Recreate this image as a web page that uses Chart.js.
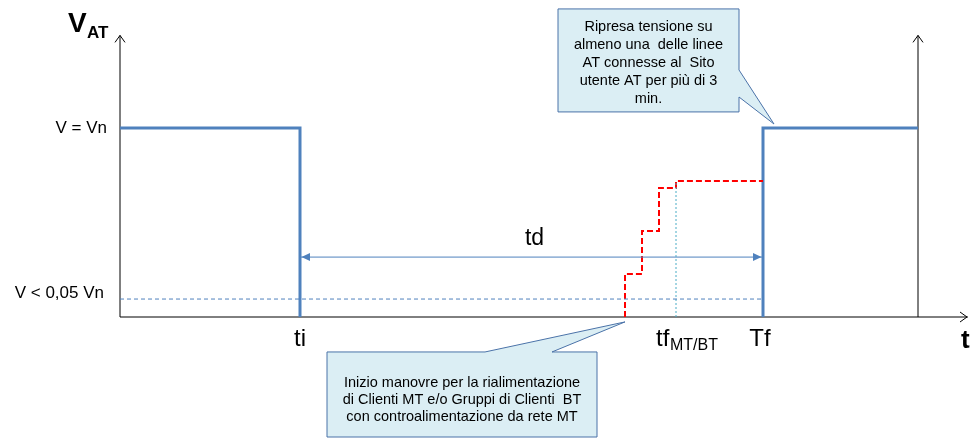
<!DOCTYPE html>
<html>

<head>
    <meta charset="utf-8">
    <title>V AT</title>
    <script src="https://cdn.jsdelivr.net/npm/chart.js"></script>
    <style>
        body { margin: 0; background: #fff; }
        canvas { display: block; }
    </style>
</head>

<body>
    <canvas id="vat-chart" width="972" height="444"></canvas>
    <script>
        // time axis (arbitrary units), voltage in units of Vn
        const tAxisMax = 848;
        const vAxisTop = 1.49;
        const tRight = 798;
        const ti = 180;
        const tStart = 505;
        const tfMTBT = 556;
        const Tf = 643;
        const vThreshold = 0.095;
        const vTd = 0.317;

        const blueBeforeT = [0, ti, ti];
        const blueBeforeV = [1, 1, 0];
        const blueAfterT = [Tf, Tf, tRight];
        const blueAfterV = [0, 1, 1];
        const redT = [505, 505, 522, 522, 539, 539, 556, 556, 643];
        const redV = [0, 0.228, 0.228, 0.455, 0.455, 0.683, 0.683, 0.72, 0.72];

        const yLabels = ['V = Vn', 'V < 0,05 Vn'];
        const yLabelValues = [1, vThreshold];
        const xLabels = ['ti', 'tf', 'Tf'];
        const xLabelValues = [ti, tfMTBT, Tf];

        const noteTop = ['Ripresa tensione su', 'almeno una  delle linee', 'AT connesse al  Sito',
            'utente AT per più di 3', 'min.'];
        const noteBottom = ['Inizio manovre per la rialimentazione', 'di Clienti MT e/o Gruppi di Clienti  BT',
            'con controalimentazione da rete MT'];

        const toPts = (xs, ys) => xs.map((x, i) => ({ x: x, y: ys[i] }));
        const BLUE = '#4F81BD';
        const FONT = '"Liberation Sans", Arial, sans-serif';

        function openArrow(ctx, x, y, dir) {
            ctx.beginPath();
            if (dir === 'up') {
                ctx.moveTo(x - 5, y + 7); ctx.lineTo(x, y); ctx.lineTo(x + 5, y + 7);
            } else {
                ctx.moveTo(x - 7, y - 5); ctx.lineTo(x, y); ctx.lineTo(x - 7, y + 5);
            }
            ctx.stroke();
        }

        function callout(ctx, box, tail, lines, font, lh, textTop) {
            ctx.save();
            ctx.beginPath();
            ctx.moveTo(box[0], box[1]);
            if (tail.side === 'top') {
                ctx.lineTo(tail.a, box[1]);
                ctx.lineTo(tail.tx, tail.ty);
                ctx.lineTo(tail.b, box[1]);
                ctx.lineTo(box[2], box[1]);
                ctx.lineTo(box[2], box[3]);
            } else {
                ctx.lineTo(box[2], box[1]);
                ctx.lineTo(box[2], tail.a);
                ctx.lineTo(tail.tx, tail.ty);
                ctx.lineTo(box[2], tail.b);
                ctx.lineTo(box[2], box[3]);
            }
            ctx.lineTo(box[0], box[3]);
            ctx.closePath();
            ctx.fillStyle = '#DBEEF4';
            ctx.fill();
            ctx.strokeStyle = '#4A72A8';
            ctx.lineWidth = 1;
            ctx.stroke();
            ctx.fillStyle = '#000';
            ctx.font = font;
            ctx.textAlign = 'center';
            ctx.textBaseline = 'middle';
            const cx = (box[0] + box[2]) / 2;
            lines.forEach((l, i) => ctx.fillText(l, cx, textTop + i * lh));
            ctx.restore();
        }

        const decor = {
            id: 'decor',
            beforeDatasetsDraw(chart) {
                const { ctx, scales: { x, y } } = chart;
                const x0 = x.getPixelForValue(0), y0 = y.getPixelForValue(0);
                const yTop = y.getPixelForValue(vAxisTop);
                const xEnd = x.getPixelForValue(tAxisMax);
                const xR = x.getPixelForValue(tRight);
                ctx.save();
                ctx.strokeStyle = '#000';
                ctx.lineWidth = 1;
                ctx.beginPath();
                ctx.moveTo(x0, y0); ctx.lineTo(x0, yTop);
                ctx.moveTo(x0, y0); ctx.lineTo(xEnd, y0);
                ctx.moveTo(xR, y0); ctx.lineTo(xR, yTop);
                ctx.stroke();
                openArrow(ctx, x0, yTop, 'up');
                openArrow(ctx, xR, yTop, 'up');
                openArrow(ctx, xEnd - 1, y0, 'right');
                ctx.restore();
            },
            afterDatasetsDraw(chart) {
                const { ctx, scales: { x, y } } = chart;
                const px = v => x.getPixelForValue(v), py = v => y.getPixelForValue(v);
                ctx.save();
                // td arrow heads
                const ya = py(vTd);
                ctx.fillStyle = BLUE;
                ctx.beginPath();
                ctx.moveTo(px(ti) + 1.5, ya); ctx.lineTo(px(ti) + 10, ya - 4); ctx.lineTo(px(ti) + 10, ya + 4);
                ctx.closePath(); ctx.fill();
                ctx.beginPath();
                ctx.moveTo(px(Tf) - 1.5, ya); ctx.lineTo(px(Tf) - 10, ya - 4); ctx.lineTo(px(Tf) - 10, ya + 4);
                ctx.closePath(); ctx.fill();

                ctx.fillStyle = '#000';
                ctx.textBaseline = 'middle';
                // axis title
                ctx.textAlign = 'left';
                ctx.font = 'bold 28px ' + FONT;
                ctx.fillText('V', 68, 24);
                ctx.font = 'bold 17px ' + FONT;
                ctx.fillText('AT', 87, 33);
                ctx.font = 'bold 26px ' + FONT;
                ctx.fillText('t', 961, 341);

                // y labels
                ctx.textAlign = 'right';
                ctx.font = '17px ' + FONT;
                ctx.fillText(yLabels[0], 107, py(yLabelValues[0]));
                ctx.fillText(yLabels[1], 104, py(yLabelValues[1]) - 6);

                // x labels
                ctx.textAlign = 'center';
                ctx.font = '24px ' + FONT;
                ctx.fillText(xLabels[0], px(xLabelValues[0]), 339);
                ctx.fillText(xLabels[2], px(xLabelValues[2]) - 3, 339);
                ctx.textAlign = 'left';
                ctx.fillText(xLabels[1], px(xLabelValues[1]) - 20, 339);
                ctx.font = '16px ' + FONT;
                ctx.fillText('MT/BT', px(xLabelValues[1]) - 6, 346);
                ctx.textAlign = 'center';
                ctx.font = '23px ' + FONT;
                ctx.fillText('td', px((ti + Tf) / 2) + 3, 239);

                // callouts
                callout(ctx, [px(438), py(1.63), px(619), py(1.085)],
                    { side: 'right', a: py(1.307), b: py(1.164), tx: px(654), ty: py(1.021) },
                    noteTop, '14.5px ' + FONT, 18, 27);
                callout(ctx, [px(207), py(-0.185), px(477), py(-0.635)],
                    { side: 'top', a: px(365), b: px(432), tx: px(tStart), ty: py(-0.026) },
                    noteBottom, '14.5px "Liberation Sans Narrow", ' + FONT, 17, 383);
                ctx.restore();
            }
        };

        const common = { showLine: true, pointRadius: 0, fill: false, clip: false, borderCapStyle: 'butt', borderJoinStyle: 'miter' };

        new Chart(document.getElementById('vat-chart'), {
            type: 'scatter',
            data: {
                datasets: [
                    { ...common, data: toPts([0, Tf], [vThreshold, vThreshold]), borderColor: BLUE, borderWidth: 1, borderDash: [4, 3] },
                    { ...common, data: toPts([tfMTBT, tfMTBT], [0, 0.72]), borderColor: '#4BACC6', borderWidth: 1, borderDash: [2, 2] },
                    { ...common, data: toPts([ti, Tf], [vTd, vTd]), borderColor: BLUE, borderWidth: 1 },
                    { ...common, data: toPts(redT, redV), borderColor: '#FF0000', borderWidth: 2, borderDash: [6, 3] },
                    { ...common, data: toPts(blueBeforeT, blueBeforeV), borderColor: BLUE, borderWidth: 3 },
                    { ...common, data: toPts(blueAfterT, blueAfterV), borderColor: BLUE, borderWidth: 3 }
                ]
            },
            options: {
                responsive: false,
                animation: false,
                layout: { padding: { left: 120, right: 4, top: 33.5, bottom: 127 } },
                scales: {
                    x: { type: 'linear', display: false, min: 0, max: tAxisMax },
                    y: { type: 'linear', display: false, min: 0, max: 1.5 }
                },
                plugins: { legend: { display: false }, tooltip: { enabled: false } }
            },
            plugins: [decor]
        });
    </script>
</body>

</html>
